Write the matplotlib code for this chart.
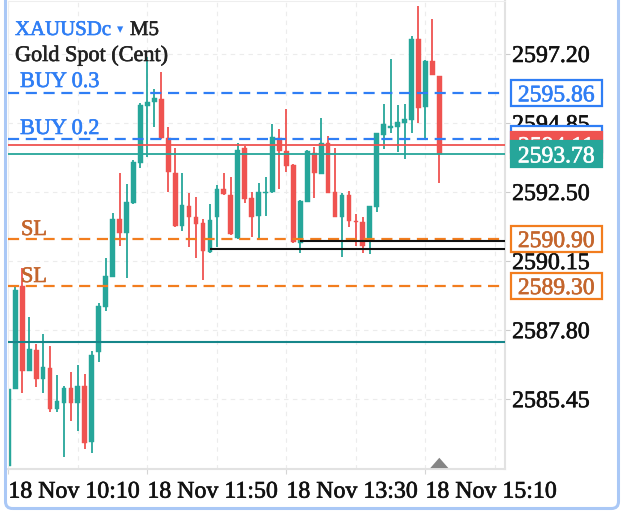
import matplotlib
matplotlib.use("Agg")
import matplotlib.pyplot as plt
import matplotlib.transforms as mtransforms
import matplotlib.patheffects as pe
from matplotlib.patches import Rectangle, FancyBboxPatch, Polygon

plt.rcParams['font.family'] = ['Liberation Serif', 'DejaVu Sans']

# XAUUSDc M5 candles, 18 Nov 10:10 -> 15:20
opens = [2583.18, 2585.80, 2589.30, 2586.41, 2587.12, 2586.14, 2586.51, 2585.12, 2585.32, 2585.83,
         2585.32, 2585.90, 2583.99, 2587.06, 2588.59, 2589.61, 2591.58, 2591.11, 2592.13, 2593.49,
         2595.43, 2595.56, 2595.67, 2594.34, 2593.15, 2591.34, 2592.02, 2591.65, 2591.45, 2590.46,
         2591.65, 2592.60, 2592.40, 2590.93, 2594.00, 2592.30, 2591.68, 2592.47, 2592.50, 2594.34,
         2593.90, 2593.42, 2590.77, 2592.16, 2593.83, 2593.11, 2594.17, 2592.50, 2591.65, 2592.40,
         2591.51, 2591.48, 2590.87, 2591.99, 2594.44, 2594.68, 2594.71, 2594.85, 2594.95, 2597.71,
         2595.39, 2596.96, 2596.45]
highs = [2585.86, 2589.27, 2589.91, 2588.25, 2587.33, 2587.67, 2587.26, 2586.27, 2585.90, 2586.37,
         2586.61, 2586.31, 2587.09, 2588.72, 2590.25, 2591.79, 2593.15, 2592.77, 2593.59, 2595.53,
         2597.10, 2596.01, 2596.59, 2594.71, 2594.00, 2593.15, 2592.47, 2592.33, 2591.58, 2592.09,
         2592.74, 2593.15, 2593.01, 2594.17, 2594.07, 2592.50, 2592.81, 2593.01, 2594.82, 2594.65,
         2595.33, 2593.44, 2592.22, 2593.93, 2594.03, 2595.02, 2594.41, 2594.00, 2592.47, 2592.54,
         2591.75, 2591.65, 2592.02, 2594.51, 2595.50, 2597.03, 2595.46, 2595.50, 2597.81, 2598.83,
         2596.99, 2598.39, 2596.45]
lows = [2583.15, 2585.78, 2585.66, 2586.41, 2585.86, 2585.66, 2585.01, 2585.01, 2583.48, 2584.71,
        2584.37, 2583.75, 2583.62, 2586.72, 2588.45, 2589.60, 2590.66, 2589.57, 2592.09, 2593.32,
        2593.69, 2594.71, 2594.31, 2592.50, 2591.32, 2591.17, 2590.63, 2590.25, 2589.51, 2590.44,
        2590.63, 2592.41, 2591.05, 2590.90, 2592.13, 2590.97, 2590.90, 2591.68, 2592.48, 2592.60,
        2593.18, 2590.77, 2590.43, 2592.16, 2592.30, 2593.11, 2592.47, 2591.65, 2590.29, 2591.31,
        2590.66, 2590.43, 2590.39, 2591.82, 2593.97, 2594.51, 2593.86, 2593.62, 2594.51, 2594.85,
        2594.31, 2596.48, 2592.81]
closes = [2585.80, 2589.17, 2586.41, 2587.16, 2586.14, 2586.54, 2585.12, 2585.39, 2585.83, 2585.32,
          2585.90, 2583.96, 2586.95, 2588.62, 2589.64, 2591.58, 2591.11, 2592.16, 2593.52, 2595.46,
          2595.56, 2595.70, 2594.34, 2593.18, 2591.34, 2592.06, 2591.65, 2591.41, 2590.49, 2591.55,
          2592.60, 2592.43, 2591.07, 2593.93, 2592.26, 2591.65, 2592.50, 2592.50, 2594.37, 2593.90,
          2593.39, 2590.80, 2592.20, 2593.90, 2593.15, 2594.17, 2592.47, 2591.65, 2592.40, 2591.51,
          2591.48, 2590.66, 2592.02, 2594.51, 2594.82, 2594.75, 2594.88, 2594.99, 2597.71, 2595.36,
          2596.96, 2596.48, 2593.78]

tick_idx = [0, 20, 40, 60]
tick_labels = ['18 Nov 10:10', '18 Nov 11:50', '18 Nov 13:30', '18 Nov 15:10']
price_ticks = [2597.20, 2594.85, 2592.50, 2590.15, 2587.80, 2585.45]

buy_levels = [2595.86, 2594.29]
buy_names = ['BUY 0.3', 'BUY 0.2']
sl_levels = [2590.90, 2589.30]
ask = 2594.11
bid = 2593.78
line_level = 2587.40
black_levels = [2590.55, 2590.84]
black_start = [29, 42]

UP = '#26a69a'
DOWN = '#ef5350'
BLUE = '#2f7ef5'
ORANGE = '#f27d1e'
BROWN = '#c4652c'

W, H = 625, 511
fig = plt.figure(figsize=(W / 100, H / 100), dpi=100)
fig.patch.set_facecolor('white')

def fx(px):
    return px / W

def fy(py):
    return 1 - py / H

def thick(col):
    # screen fonts in the app look a bit heavier than Liberation Serif
    return [pe.withStroke(linewidth=0.45, foreground=col)]

ax = fig.add_axes([fx(8), fy(469), fx(505) - fx(8), fy(1) - fy(469)])
ax.set_xlim(-0.05, 71.45)
ax.set_ylim(2583.073, 2599.002)

# grid
for k in range(0, 71, 10):
    ax.axvline(k, color='#ececec', lw=0.8, ls=(0, (4, 4)), zorder=0)
for p in price_ticks:
    ax.axhline(p, color='#ececec', lw=0.8, ls=(0, (4, 4)), zorder=0)

# candles
n = len(opens)
for i in range(n):
    o, h, l, c = opens[i], highs[i], lows[i], closes[i]
    col = UP if c >= o else DOWN
    ax.vlines(i, l, h, color=col, lw=1.3, zorder=2)
    ax.bar(i, max(abs(c - o), 0.04), bottom=min(o, c), width=0.68, color=col,
           edgecolor=col, lw=0.3, zorder=2)

# levels
for lv in buy_levels:
    ax.axhline(lv, color=BLUE, lw=1.6, ls=(0, (5, 3)), zorder=3)
for lv in sl_levels:
    ax.axhline(lv, color=ORANGE, lw=1.6, ls=(0, (5, 3)), zorder=3)
ax.axhline(ask, color=DOWN, lw=1.3, zorder=3)
ax.axhline(bid, color=UP, lw=1.3, zorder=3)
ax.axhline(line_level, color='#16868a', lw=1.5, zorder=3)
for st, lv in zip(black_start, black_levels):
    ax.hlines(lv, st, 71.45, color='#111111', lw=1.5, zorder=3)

# axes styling
for s in ['left', 'top']:
    ax.spines[s].set_color('#eeeeee')
    ax.spines[s].set_linewidth(0.8)
for s in ['right', 'bottom']:
    ax.spines[s].set_color('#e2e2e2')
    ax.spines[s].set_linewidth(1.5)

ax.yaxis.tick_right()
ax.set_yticks(price_ticks)
ax.set_yticklabels([f'{p:.2f}' for p in price_ticks])
ax.tick_params(axis='y', length=3.6, width=0.8, color='#cccccc', pad=1.5,
               labelsize=17.2, labelcolor='#111111')
ax.set_xticks(tick_idx)
ax.set_xticklabels(tick_labels, ha='left')
ax.tick_params(axis='x', length=3.6, width=0.8, color='#d5d5d5', pad=5.5,
               labelsize=17.2, labelcolor='#111111')
for lab in ax.get_xticklabels() + ax.get_yticklabels():
    lab.set_path_effects(thick('#111111'))

# current bar marker
tr_xa = mtransforms.blended_transform_factory(ax.transData, ax.transAxes)
ax.add_artist(Polygon([[n - 1 - 1.3, 0.002], [n - 1 + 1.3, 0.002], [n - 1, 0.024]],
                      closed=True, transform=tr_xa, facecolor='#858585',
                      edgecolor='none', clip_on=False, zorder=4))

# price boxes on the right
tr = mtransforms.blended_transform_factory(fig.transFigure, ax.transData)
box_h = 26 * (2599.002 - 2583.073) / 468

def price_box(level, face, edge, tcol, z):
    ax.add_artist(Rectangle((fx(510.5), level - box_h / 2), fx(91), box_h, transform=tr,
                            facecolor=face, edgecolor=edge, lw=1.6, clip_on=False, zorder=z))
    ax.text(fx(556), level, f'{level:.2f}', transform=tr, ha='center', va='center_baseline',
            fontsize=17, color=tcol, clip_on=False, zorder=z + 0.5,
            path_effects=thick(tcol))

price_box(buy_levels[0], 'white', BLUE, BLUE, 20)
price_box(buy_levels[1], 'white', BLUE, BLUE, 20)
price_box(sl_levels[0], 'white', ORANGE, BROWN, 20)
price_box(sl_levels[1], 'white', ORANGE, BROWN, 20)
price_box(ask, DOWN, DOWN, 'white', 22)
price_box(bid, UP, UP, 'white', 24)

# header and level captions
fig.text(fx(15), fy(35), 'XAUUSDc', color=BLUE, fontsize=15, va='baseline',
         path_effects=thick(BLUE))
fig.text(fx(117), fy(33), '▾', color=BLUE, fontsize=9, va='baseline', family='DejaVu Sans')
fig.text(fx(130), fy(35), 'M5', color='#222222', fontsize=15, va='baseline',
         path_effects=thick('#222222'))
fig.text(fx(15), fy(61), 'Gold Spot (Cent)', color='#222222', fontsize=16, va='baseline',
         path_effects=thick('#222222'))
for nm, py in zip(buy_names, [87, 134]):
    fig.text(fx(20), fy(py), nm, color=BLUE, fontsize=16, va='baseline',
             path_effects=thick(BLUE))
for py in [235, 282]:
    fig.text(fx(21), fy(py), 'SL', color=BROWN, fontsize=16, va='baseline',
             path_effects=thick(BROWN))

# outer app frame
frame = FancyBboxPatch((5.5, 2.5), 613, 540, boxstyle='round,pad=0,rounding_size=7',
                       transform=mtransforms.IdentityTransform(), facecolor='none',
                       edgecolor='#aac8f6', lw=2.2, zorder=50)
fig.add_artist(frame)

fig.savefig('out.png', dpi=100)
